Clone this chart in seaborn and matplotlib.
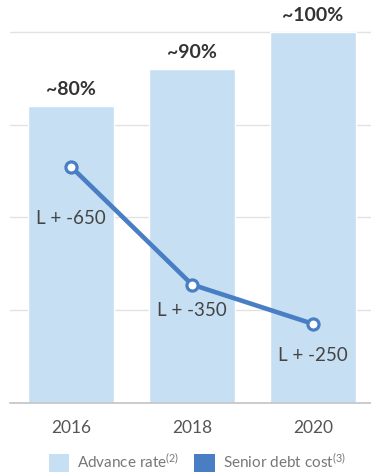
import matplotlib
matplotlib.use("Agg")
import matplotlib.pyplot as plt
from matplotlib.patches import Patch
import seaborn as sns
import pandas as pd

years = ["2016", "2018", "2020"]
advance_rate = [80, 90, 100]
advance_labels = ["~80%", "~90%", "~100%"]
debt_cost = [650, 350, 250]
debt_labels = ["L + -650", "L + -350", "L + -250"]

sns.set_style("white")
plt.rcParams["font.family"] = ["Lato", "DejaVu Sans"]
plt.rcParams["mathtext.default"] = "regular"

BAR_COLOR = "#c7dff3"
LINE_COLOR = "#4a7ec4"

fig = plt.figure(figsize=(3.71, 4.74), dpi=100)
ax = fig.add_axes([10 / 371, 1 - 403 / 474, 361 / 371, 403 / 474])

df = pd.DataFrame({"year": years, "rate": advance_rate, "cost": debt_cost})
sns.barplot(data=df, x="year", y="rate", color=BAR_COLOR, saturation=1,
            width=0.71, ax=ax, zorder=2)
ax.set_xlim(-0.504, 2.48)
ax.set_ylim(0, 108.6)
ax.set_yticks([0, 25, 50, 75, 100])
ax.yaxis.grid(True, color="#e2e2e2", linewidth=1)
ax.set_axisbelow(True)
ax.set_yticklabels([])
ax.tick_params(axis="y", length=0)
ax.tick_params(axis="x", length=0, pad=12, labelsize=12.5, labelcolor="#555555")
ax.set_xlabel("")
ax.set_ylabel("")
for s in ["top", "right", "left"]:
    ax.spines[s].set_visible(False)
ax.spines["bottom"].set_color("#c4c4c4")
ax.spines["bottom"].set_linewidth(1.2)

for i, (v, lab) in enumerate(zip(advance_rate, advance_labels)):
    ax.annotate(lab, (i, v), xytext=(0, 6), textcoords="offset points",
                ha="center", va="bottom", fontsize=14, fontweight="bold",
                color="#333333")

ax2 = ax.twinx()
sns.lineplot(x=[0, 1, 2], y=debt_cost, ax=ax2, color=LINE_COLOR, linewidth=3.3,
             marker="o", markersize=8, markerfacecolor="white",
             markeredgecolor=LINE_COLOR, markeredgewidth=2.3, zorder=5)
ax2.set_ylim(48.6, 1074)
ax2.set_yticks([])
for s in ["top", "right", "left", "bottom"]:
    ax2.spines[s].set_visible(False)

offsets = [-37, -18.5, -22.5]
for i, (v, lab) in enumerate(zip(debt_cost, debt_labels)):
    ax2.annotate(lab, (i, v), xytext=(0, offsets[i]), textcoords="offset points",
                 ha="center", va="center", fontsize=13.5, color="#444444")

handles = [Patch(facecolor=BAR_COLOR, edgecolor="none"),
           Patch(facecolor=LINE_COLOR, edgecolor="none")]
fig.legend(handles, ["Advance rate$^{(2)}$", "Senior debt cost$^{(3)}$"],
           loc="center", bbox_to_anchor=(197 / 371, 1 - 462 / 474), ncol=2,
           frameon=False, fontsize=11, labelcolor="#777777",
           handlelength=1.35, handleheight=1.35, handletextpad=0.5,
           columnspacing=1.0)

fig.savefig("out.png", dpi=100)
